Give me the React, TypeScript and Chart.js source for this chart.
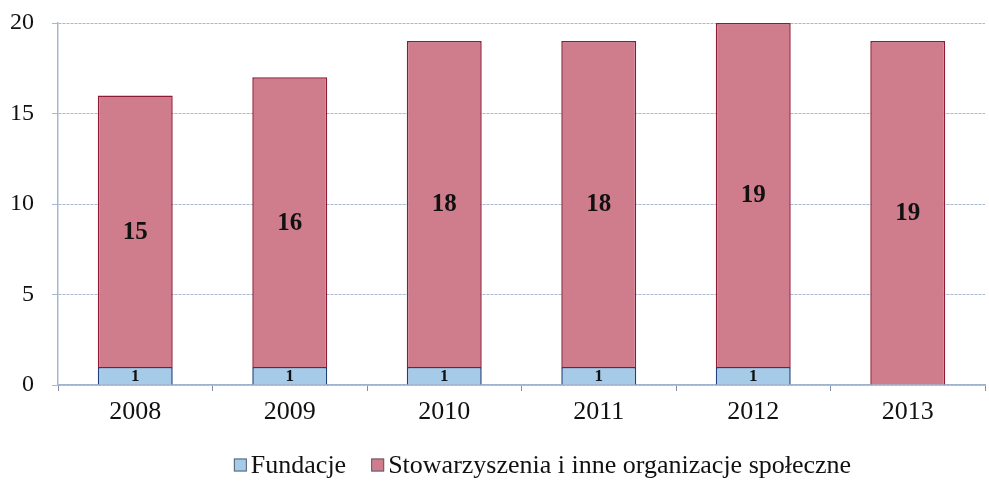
import React, { useEffect, useRef } from "react";
import { Chart, registerables } from "chart.js";

Chart.register(...registerables);

const categories = ["2008", "2009", "2010", "2011", "2012", "2013"];
const fundacje = [1, 1, 1, 1, 1, null];
const stowarzyszenia = [15, 16, 18, 18, 19, 19];
const seriesNames = ["Fundacje", "Stowarzyszenia i inne organizacje społeczne"];

const serif = "'Liberation Serif', 'Times New Roman', serif";
const fills = ["#A6CBE8", "#CF7D8C"];
const borders = ["#1F3F7A", "#8E1B34"];

const labelPlugin = {
  id: "barLabels",
  afterDatasetsDraw(chart: any) {
    const ctx = chart.ctx;
    ctx.save();
    ctx.textAlign = "center";
    ctx.textBaseline = "middle";
    ctx.fillStyle = "#111";
    chart.data.datasets.forEach((ds: any, di: number) => {
      const meta = chart.getDatasetMeta(di);
      meta.data.forEach((el: any, i: number) => {
        const v = ds.data[i];
        if (v === null || v === undefined) return;
        const cy = (el.y + el.base) / 2;
        ctx.font = di === 0 ? `bold 17px ${serif}` : `bold 25px ${serif}`;
        ctx.fillText(String(v), el.x, cy + 1);
      });
    });
    ctx.restore();
  },
};

const legendPlugin = {
  id: "customLegend",
  afterDraw(chart: any) {
    const ctx = chart.ctx;
    ctx.save();
    ctx.font = `26px ${serif}`;
    ctx.textBaseline = "middle";
    ctx.textAlign = "left";
    const box = 13;
    const gap = 4;
    const spacing = 25;
    const widths = seriesNames.map((t) => ctx.measureText(t).width);
    const total = widths.reduce((a, w) => a + box + gap + w, 0) + spacing * (seriesNames.length - 1);
    const area = chart.chartArea;
    let x = (area.left + area.right) / 2 + 21 - total / 2;
    const y = chart.height - 20;
    seriesNames.forEach((t, i) => {
      ctx.fillStyle = fills[i];
      ctx.strokeStyle = "#556070";
      ctx.lineWidth = 1;
      ctx.fillRect(x, y - box / 2, box, box);
      ctx.strokeRect(x + 0.5, y - box / 2 + 0.5, box - 1, box - 1);
      ctx.fillStyle = "#111";
      ctx.fillText(t, x + box + gap, y + 1);
      x += box + gap + widths[i] + spacing;
    });
    ctx.restore();
  },
};

export default function App() {
  const ref = useRef<HTMLCanvasElement>(null);
  useEffect(() => {
    if (!ref.current) return;
    const chart = new Chart(ref.current, {
      type: "bar",
      data: {
        labels: categories,
        datasets: [
          {
            label: seriesNames[0],
            data: fundacje,
            backgroundColor: fills[0],
            borderColor: borders[0],
            borderWidth: 1.5,
          },
          {
            label: seriesNames[1],
            data: stowarzyszenia,
            backgroundColor: fills[1],
            borderColor: borders[1],
            borderWidth: 1.5,
          },
        ],
      },
      options: {
        animation: false,
        responsive: false,
        maintainAspectRatio: false,
        layout: { padding: { top: 23, right: 4, left: 0, bottom: 48 } },
        datasets: { bar: { categoryPercentage: 1, barPercentage: 0.485 } },
        scales: {
          x: {
            stacked: true,
            grid: {
              drawOnChartArea: false,
              drawTicks: true,
              tickLength: 6,
              color: "#7F90A8",
            },
            border: { color: "#9FB3CE", width: 1.5, dash: [2, 1] },
            ticks: {
              color: "#111",
              font: { family: serif, size: 26 },
              padding: 6,
            },
            afterFit(scale: any) {
              scale.height = 52;
              scale.paddingLeft = 0;
              scale.paddingRight = 0;
            },
          },
          y: {
            stacked: true,
            min: 0,
            max: 20,
            ticks: {
              stepSize: 5,
              color: "#111",
              font: { family: serif, size: 24 },
              padding: 18,
            },
            grid: {
              color: "#A7B8D0",
              lineWidth: 1,
              tickLength: 6,
            },
            border: { color: "#A7B8D0", width: 1.5, dash: [3, 1] },
            afterFit(scale: any) {
              scale.width = 58;
              scale.paddingTop = 0;
              scale.paddingBottom = 0;
            },
          },
        },
        plugins: {
          legend: { display: false },
          tooltip: { enabled: false },
        },
      },
      plugins: [labelPlugin, legendPlugin],
    } as any);
    return () => chart.destroy();
  }, []);
  return (
    <div style={{ position: "fixed", left: 0, top: 0, width: 989, height: 485, background: "#fff" }}>
      <canvas ref={ref} width={989} height={485} style={{ width: 989, height: 485 }} />
    </div>
  );
}
